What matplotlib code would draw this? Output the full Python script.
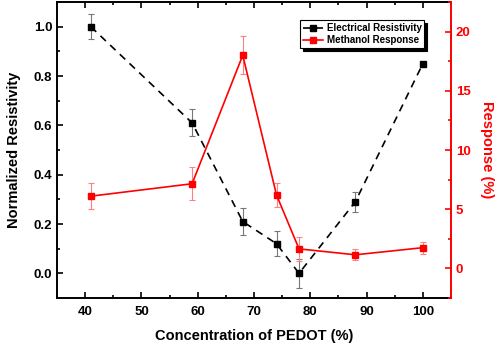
import matplotlib
matplotlib.use("Agg")
import matplotlib.pyplot as plt
from matplotlib.ticker import MultipleLocator

plt.rcParams['font.family'] = ['Liberation Sans', 'DejaVu Sans']
plt.rcParams['font.weight'] = 'bold'

conc = [41, 59, 68, 74, 78, 88, 100]
resistivity = [1.0, 0.61, 0.21, 0.12, 0.0, 0.29, 0.85]
resistivity_err = [0.05, 0.055, 0.055, 0.05, 0.06, 0.04, 0.0]
response = [6.1, 7.15, 18.0, 6.2, 1.65, 1.15, 1.75]
response_err = [1.1, 1.4, 1.6, 1.0, 1.0, 0.45, 0.5]

fig = plt.figure(figsize=(4.98, 3.47), dpi=100)
ax = fig.add_axes([0.1145, 0.1412, 0.7911, 0.853])
ax2 = ax.twinx()

# Error bars (lighter)
ax.errorbar(conc, resistivity, yerr=resistivity_err, fmt='none', ecolor='#777777',
            elinewidth=0.8, capsize=2.5, capthick=0.8, zorder=2)
ax2.errorbar(conc, response, yerr=response_err, fmt='none', ecolor='#ff8080',
             elinewidth=0.8, capsize=2.5, capthick=0.8, zorder=2)

l1, = ax.plot(conc, resistivity, color='black', linestyle=(0, (4.5, 3.5)), linewidth=1.2,
              marker='s', markersize=5, label='Electrical Resistivity', zorder=3)
l2, = ax2.plot(conc, response, color='red', linestyle='-', linewidth=1.2,
               marker='s', markersize=5, label='Methanol Response', zorder=3)

ax.set_xlim(35, 105)
ax.set_ylim(-0.1, 1.1)
ax2.set_ylim(-2.5, 22.5)

ax.xaxis.set_major_locator(MultipleLocator(10))
ax.xaxis.set_minor_locator(MultipleLocator(5))
ax.yaxis.set_major_locator(MultipleLocator(0.2))
ax.yaxis.set_minor_locator(MultipleLocator(0.1))
ax2.yaxis.set_major_locator(MultipleLocator(5))
ax2.yaxis.set_minor_locator(MultipleLocator(2.5))

ax.tick_params(axis='x', which='both', direction='in', top=True, labelsize=9.5, pad=6, width=1.2)
ax.tick_params(axis='x', which='major', length=4)
ax.tick_params(axis='x', which='minor', length=2)
ax.tick_params(axis='y', which='both', direction='in', labelsize=9.5, width=1.2)
ax.tick_params(axis='y', which='major', length=4)
ax.tick_params(axis='y', which='minor', length=2)
ax2.tick_params(axis='y', which='both', direction='in', labelsize=9.5, colors='red', width=1.2)
ax2.tick_params(axis='y', which='major', length=4)
ax2.tick_params(axis='y', which='minor', length=2)

ax.yaxis.set_major_formatter(matplotlib.ticker.FormatStrFormatter('%.1f'))

for s in ['left', 'bottom', 'top']:
    ax.spines[s].set_linewidth(1.4)
ax.spines['right'].set_visible(False)
ax2.spines['right'].set_color('red')
ax2.spines['right'].set_linewidth(1.4)
for s in ['left', 'top', 'bottom']:
    ax2.spines[s].set_visible(False)

ax.set_xlabel('Concentration of PEDOT (%)', fontsize=10.5, fontweight='bold', labelpad=8)
ax.set_ylabel('Normalized Resistivity', fontsize=10.5, fontweight='bold', labelpad=9)
ax2.set_ylabel('Response (%)', fontsize=10.5, fontweight='bold', color='red', rotation=270, labelpad=17)

leg = ax.legend(handles=[l1, l2], loc='upper right', bbox_to_anchor=(0.945, 0.955),
                fontsize=7, frameon=True, fancybox=False, shadow={'color': 'black', 'alpha': 1},
                edgecolor='black', framealpha=1, borderpad=0.3, handlelength=2.0,
                handletextpad=0.4, labelspacing=0.2, markerscale=0.8)
leg.get_frame().set_linewidth(0.8)
for t in leg.get_texts():
    t.set_fontweight('bold')
leg.set_zorder(10)

fig.savefig('out.png', dpi=100)
